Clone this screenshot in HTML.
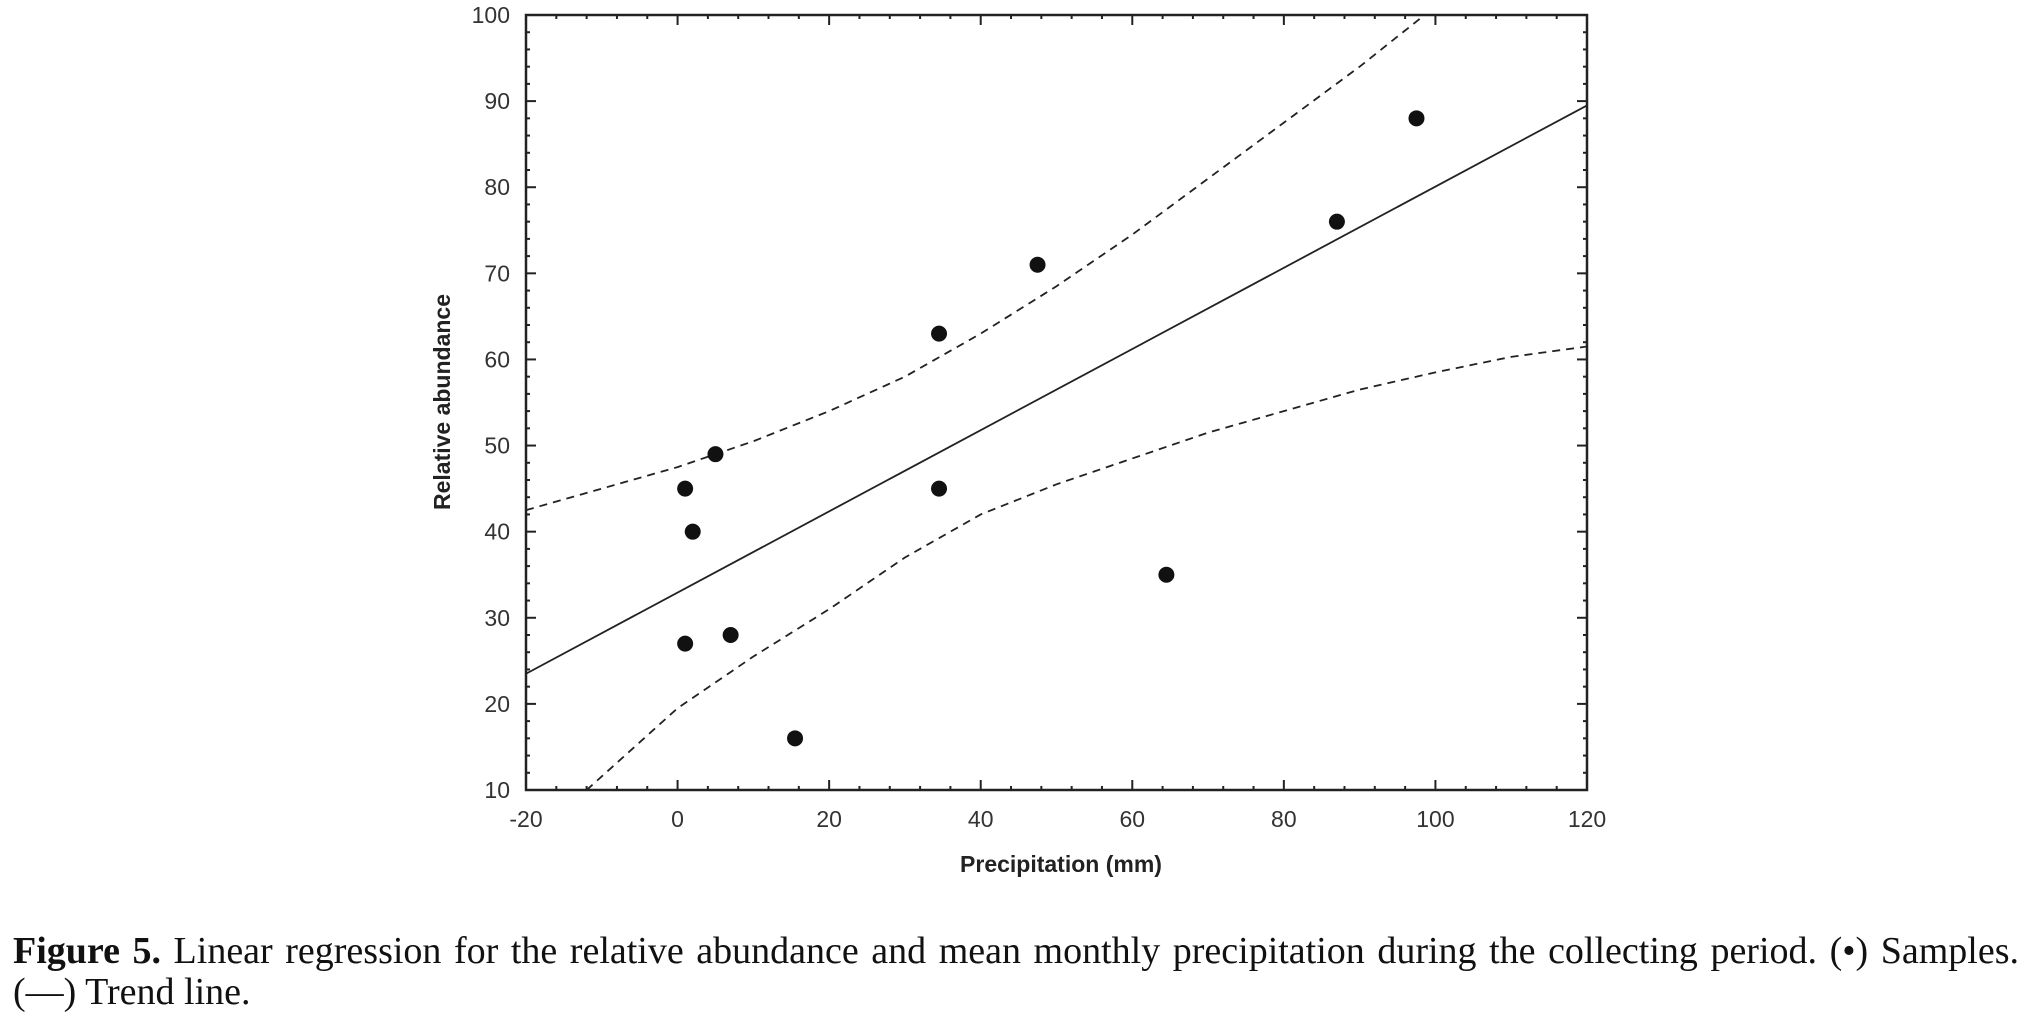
<!DOCTYPE html>
<html><head><meta charset="utf-8"><style>
html,body{margin:0;padding:0;background:#fff;width:2025px;height:1007px;overflow:hidden}
svg{position:absolute;left:0;top:0}
#cap{position:absolute;left:13px;top:931px;width:2006px;font-family:"Liberation Serif",serif;font-size:38px;line-height:41px;color:#111}
#cap .l1{text-align:justify;text-align-last:justify;white-space:nowrap}
</style></head><body>
<svg id="chart" width="2025" height="1007" xmlns="http://www.w3.org/2000/svg"></svg>
<div id="cap"><div class="l1"><b>Figure 5.</b> Linear regression for the relative abundance and mean monthly precipitation during the collecting period. (•) Samples.</div><div>(—) Trend line.</div></div>
<script>
const xTicks=[-20,0,20,40,60,80,100,120];
const yTicks=[10,20,30,40,50,60,70,80,90,100];
const sampleX=[1,2,5,1,7,15.5,34.5,34.5,47.5,64.5,87,97.5];
const sampleY=[45,40,49,27,28,16,63,45,71,35,76,88];
const trendX=[-20,120];
const trendY=[23.5,89.5];
const upperX=[-20,-10,0,10,20,30,40,50,60,70,80,90,100];
const upperY=[42.5,45,47.5,50.5,54,58,63,68.5,74.5,81,87.5,94,101];
const lowerX=[-12,0,10,20,30,40,50,60,70,80,90,100,110,120];
const lowerY=[10,19.5,25.5,31,37,42,45.5,48.5,51.5,54,56.5,58.5,60.3,61.5];
const L=526,R=1587,T=15,B=790;
const sx=v=>L+(v+20)/140*(R-L);
const sy=v=>B-(v-10)/90*(B-T);
const svg=document.getElementById('chart');
const NS='http://www.w3.org/2000/svg';
function mk(t,a){const e=document.createElementNS(NS,t);for(const k in a)e.setAttribute(k,a[k]);svg.appendChild(e);return e;}
const defs=mk('defs',{});
const cp=document.createElementNS(NS,'clipPath');cp.setAttribute('id','pc');
const cr=document.createElementNS(NS,'rect');cr.setAttribute('x',L);cr.setAttribute('y',T);cr.setAttribute('width',R-L);cr.setAttribute('height',B-T);
cp.appendChild(cr);defs.appendChild(cp);
let fr=mk('rect',{x:L,y:T,width:R-L,height:B-T,fill:'none',stroke:'#222','stroke-width':2.5});


for(let v=-20;v<=120;v+=4){const x=sx(v);const major=v%20===0;const len=major?10:4;
 let t=mk('line',{x1:x,x2:x,y1:B,y2:B-len,stroke:'#222','stroke-width':2});
 
 
 let t2=mk('line',{x1:x,x2:x,y1:T,y2:T+len,stroke:'#222','stroke-width':2});
 
 }
for(let v=10;v<=100;v+=2){const y=sy(v);const major=v%10===0;const len=major?10:4;
 let t=mk('line',{x1:L,x2:L+len,y1:y,y2:y,stroke:'#222','stroke-width':2});
 
 
 let t2=mk('line',{x1:R,x2:R-len,y1:y,y2:y,stroke:'#222','stroke-width':2});
 
 }
const tf='font-family:"Liberation Sans",sans-serif;font-size:23px;fill:#333';
xTicks.forEach(v=>{const t=mk('text',{x:sx(v),y:827,'text-anchor':'middle',style:tf});t.textContent=v;
 
 });
yTicks.forEach(v=>{const t=mk('text',{x:510,y:sy(v)+8,'text-anchor':'end',style:tf});t.textContent=v;
 
 });
const xt=mk('text',{x:1061,y:872,'text-anchor':'middle',style:'font-family:"Liberation Sans",sans-serif;font-size:23px;font-weight:bold;fill:#222'});
xt.textContent='Precipitation (mm)';


const yt=mk('text',{x:0,y:0,'text-anchor':'middle',transform:'translate(450,402) rotate(-90)',style:'font-family:"Liberation Sans",sans-serif;font-size:23px;font-weight:bold;fill:#222'});
yt.textContent='Relative abundance';


function poly(xs,ys){return xs.map((x,i)=>sx(x)+','+sy(ys[i])).join(' ');}
const tl=mk('polyline',{points:poly(trendX,trendY),fill:'none',stroke:'#222','stroke-width':1.8,'clip-path':'url(#pc)'});


const up=mk('polyline',{points:poly(upperX,upperY),fill:'none',stroke:'#222','stroke-width':1.8,'stroke-dasharray':'8 6','clip-path':'url(#pc)'});


const lo=mk('polyline',{points:poly(lowerX,lowerY),fill:'none',stroke:'#222','stroke-width':1.8,'stroke-dasharray':'8 6','clip-path':'url(#pc)'});


sampleX.forEach((x,i)=>{const c=mk('circle',{cx:sx(x),cy:sy(sampleY[i]),r:8,fill:'#111'});
 
 });
</script>
</body></html>
